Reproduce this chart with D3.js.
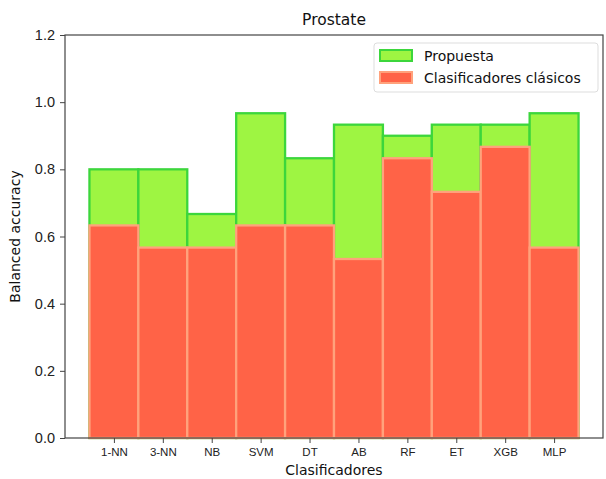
<!DOCTYPE html>
<html>
<head>
<meta charset="utf-8">
<title>Prostate</title>
<style>
body { margin: 0; background: #fff; }
svg { display: block; font-family: "DejaVu Sans", sans-serif; }
.domain { stroke: #444; }
.tick line { stroke: #444; }
.tick text { fill: #222; }
</style>
</head>
<body>
<svg></svg>
<script src="https://d3js.org/d3.v7.min.js"></script>
<script>
const classifiers = ['1-NN','3-NN','NB','SVM','DT','AB','RF','ET','XGB','MLP'];
const proposed = [0.800, 0.800, 0.667, 0.967, 0.833, 0.933, 0.900, 0.933, 0.933, 0.967];
const classic  = [0.633, 0.567, 0.567, 0.633, 0.633, 0.533, 0.833, 0.733, 0.867, 0.567];
const yTicks = [0, 0.2, 0.4, 0.6, 0.8, 1.0, 1.2];

const W = 606, H = 479;
const margin = { top: 35, right: 3, bottom: 41, left: 65 };

const svg = d3.select('svg').attr('width', W).attr('height', H);

// bars are one unit wide, matplotlib-like 0.05 margin on each side
const x = d3.scaleLinear([-1, classifiers.length], [margin.left, W - margin.right]);
const y = d3.scaleLinear([0, 1.2], [H - margin.bottom, margin.top]);

const green = '#9ef542', greenEdge = '#3cd63c';
const red = '#ff6347', redEdge = '#ffa27c';

const bars = svg.append('g');

bars.selectAll('rect.prop')
  .data(proposed)
  .join('rect')
  .attr('class', 'prop')
  .attr('x', (d, i) => x(i - 0.5))
  .attr('width', x(1) - x(0))
  .attr('y', d => y(d))
  .attr('height', d => y(0) - y(d))
  .attr('fill', green)
  .attr('stroke', greenEdge)
  .attr('stroke-width', 2.3);

bars.selectAll('rect.clas')
  .data(classic)
  .join('rect')
  .attr('class', 'clas')
  .attr('x', (d, i) => x(i - 0.5))
  .attr('width', x(1) - x(0))
  .attr('y', d => y(d))
  .attr('height', d => y(0) - y(d))
  .attr('fill', red)
  .attr('stroke', redEdge)
  .attr('stroke-width', 2.3);

// frame
svg.append('rect')
  .attr('x', margin.left).attr('y', margin.top)
  .attr('width', W - margin.right - margin.left)
  .attr('height', H - margin.bottom - margin.top)
  .attr('fill', 'none').attr('stroke', '#444').attr('stroke-width', 1.2);

const xa = svg.append('g')
  .attr('transform', `translate(0,${H - margin.bottom})`)
  .call(d3.axisBottom(x).tickValues(d3.range(classifiers.length)).tickFormat(i => classifiers[i]).tickSize(5).tickPadding(5));
xa.select('.domain').remove();
xa.selectAll('.tick text').style('font-size', '11.5px');

const ya = svg.append('g')
  .attr('transform', `translate(${margin.left},0)`)
  .call(d3.axisLeft(y).tickValues(yTicks).tickFormat(d3.format('.1f')).tickSize(5).tickPadding(5));
ya.select('.domain').remove();
ya.selectAll('.tick text').style('font-size', '14.5px');

svg.append('text')
  .attr('x', (margin.left + W - margin.right) / 2).attr('y', 25)
  .attr('text-anchor', 'middle').style('font-size', '15.5px').attr('fill', '#111')
  .text('Prostate');

svg.append('text')
  .attr('x', (margin.left + W - margin.right) / 2).attr('y', 475)
  .attr('text-anchor', 'middle').style('font-size', '14px').attr('fill', '#111')
  .text('Clasificadores');

svg.append('text')
  .attr('transform', `translate(20,${(margin.top + H - margin.bottom) / 2}) rotate(-90)`)
  .attr('text-anchor', 'middle').style('font-size', '14px').attr('fill', '#111')
  .text('Balanced accuracy');

// legend
const lg = svg.append('g').attr('transform', 'translate(374,43)');
lg.append('rect')
  .attr('width', 224).attr('height', 49).attr('rx', 3)
  .attr('fill', '#fff').attr('fill-opacity', 0.8)
  .attr('stroke', '#ddd');
const items = [
  { label: 'Propuesta', fill: green, edge: greenEdge },
  { label: 'Clasificadores clásicos', fill: red, edge: redEdge }
];
items.forEach((it, i) => {
  lg.append('rect')
    .attr('x', 6).attr('y', 7 + i * 22)
    .attr('width', 32).attr('height', 11)
    .attr('fill', it.fill).attr('stroke', it.edge).attr('stroke-width', 2);
  lg.append('text')
    .attr('x', 50).attr('y', 18 + i * 22)
    .style('font-size', '14px').attr('fill', '#111')
    .text(it.label);
});
</script>
</body>
</html>
